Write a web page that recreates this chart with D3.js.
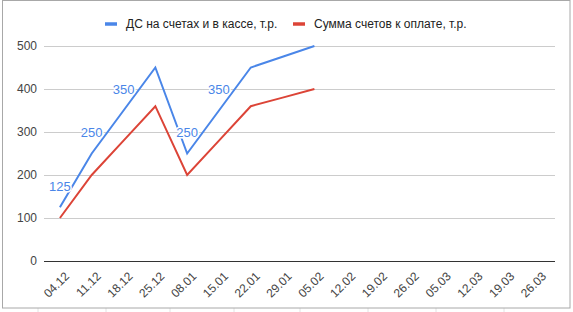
<!DOCTYPE html>
<html>
<head>
<meta charset="utf-8">
<script src="https://d3js.org/d3.v7.min.js"></script>
<style>
  body { margin: 0; background: #fff; }
  text { font-family: Arial, "Liberation Sans", sans-serif; }
</style>
</head>
<body>
<div id="my_dataviz"></div>
<script>
// data
var dates = ["04.12","11.12","18.12","25.12","08.01","15.01","22.01","29.01","05.02",
             "12.02","19.02","26.02","05.03","12.03","19.03","26.03"];
var cash = [125, 250, 350, 450, 250, 350, 450, 475, 500];
var bills = [100, 200, 280, 360, 200, 280, 360, 380, 400];
var labelIdx = [0, 1, 2, 4, 5];   // points that carry a value label
var yTicks = [0, 100, 200, 300, 400, 500];
var seriesNames = ["ДС на счетах и в кассе, т.р.", "Сумма счетов к оплате, т.р."];
var colors = ["#4a86e8", "#dc4437"];

var W = 573, H = 312;
var svg = d3.select("#my_dataviz").append("svg")
    .attr("width", W).attr("height", H);

// spreadsheet cell lines outside the chart frame
var cellX = [38, 106, 170, 234, 300, 368, 436, 504];
svg.selectAll("cellTop").data(cellX).enter().append("line")
    .attr("x1", d => d).attr("x2", d => d).attr("y1", 0).attr("y2", 2)
    .attr("stroke", "#e2e2e2");
svg.selectAll("cellBot").data(cellX).enter().append("line")
    .attr("x1", d => d).attr("x2", d => d).attr("y1", 308).attr("y2", H)
    .attr("stroke", "#e2e2e2");

// chart frame
svg.append("rect")
    .attr("x", 2.5).attr("y", 0.5).attr("width", 567.5).attr("height", 307.5)
    .attr("fill", "#fff").attr("stroke", "#a8a8a8");

var x = d3.scalePoint().domain(dates).range([44, 553]).padding(0.5);
var y = d3.scaleLinear().domain([0, 500]).range([261, 46]);

// gridlines
svg.append("g").selectAll("line").data(yTicks.filter(d => d > 0)).enter().append("line")
    .attr("x1", 44).attr("x2", 555)
    .attr("y1", d => y(d) + 0.5).attr("y2", d => y(d) + 0.5)
    .attr("stroke", "#cccccc");

// y axis labels
svg.append("g").selectAll("text").data(yTicks).enter().append("text")
    .attr("x", 37).attr("y", d => y(d)).attr("dy", "0.35em")
    .attr("text-anchor", "end").attr("font-size", 12).attr("fill", "#444")
    .text(d => d);

// baseline
svg.append("line")
    .attr("x1", 44).attr("x2", 555).attr("y1", y(0) + 0.5).attr("y2", y(0) + 0.5)
    .attr("stroke", "#333");

// x axis labels
svg.append("g").selectAll("text").data(dates).enter().append("text")
    .attr("transform", d => "translate(" + (x(d) + 7) + ",274) rotate(-45)")
    .attr("dy", "0.35em")
    .attr("text-anchor", "end").attr("font-size", 12).attr("fill", "#444")
    .text(d => d);

// lines
var line = d3.line()
    .x((d, i) => x(dates[i]))
    .y(d => y(d));

[cash, bills].forEach(function(s, k) {
  svg.append("path")
    .datum(s)
    .attr("fill", "none")
    .attr("stroke", colors[k])
    .attr("stroke-width", 2)
    .attr("stroke-linejoin", "miter")
    .attr("d", line);
});

// value labels with white halo
svg.append("g").selectAll("text").data(labelIdx).enter().append("text")
    .attr("x", i => x(dates[i]))
    .attr("y", i => y(cash[i]) - 21)
    .attr("dy", "0.35em")
    .attr("text-anchor", "middle").attr("font-size", 13)
    .attr("fill", colors[0])
    .attr("stroke", "#fff").attr("stroke-width", 3).attr("paint-order", "stroke")
    .text(i => cash[i]);

// legend
var legX = [105, 293];
seriesNames.forEach(function(n, k) {
  svg.append("line")
    .attr("x1", legX[k]).attr("x2", legX[k] + 12)
    .attr("y1", 24).attr("y2", 24)
    .attr("stroke", colors[k]).attr("stroke-width", 3.5);
  svg.append("text")
    .attr("x", legX[k] + 21).attr("y", 24).attr("dy", "0.35em")
    .attr("font-size", 12).attr("fill", "#222")
    .text(n);
});
</script>
</body>
</html>
